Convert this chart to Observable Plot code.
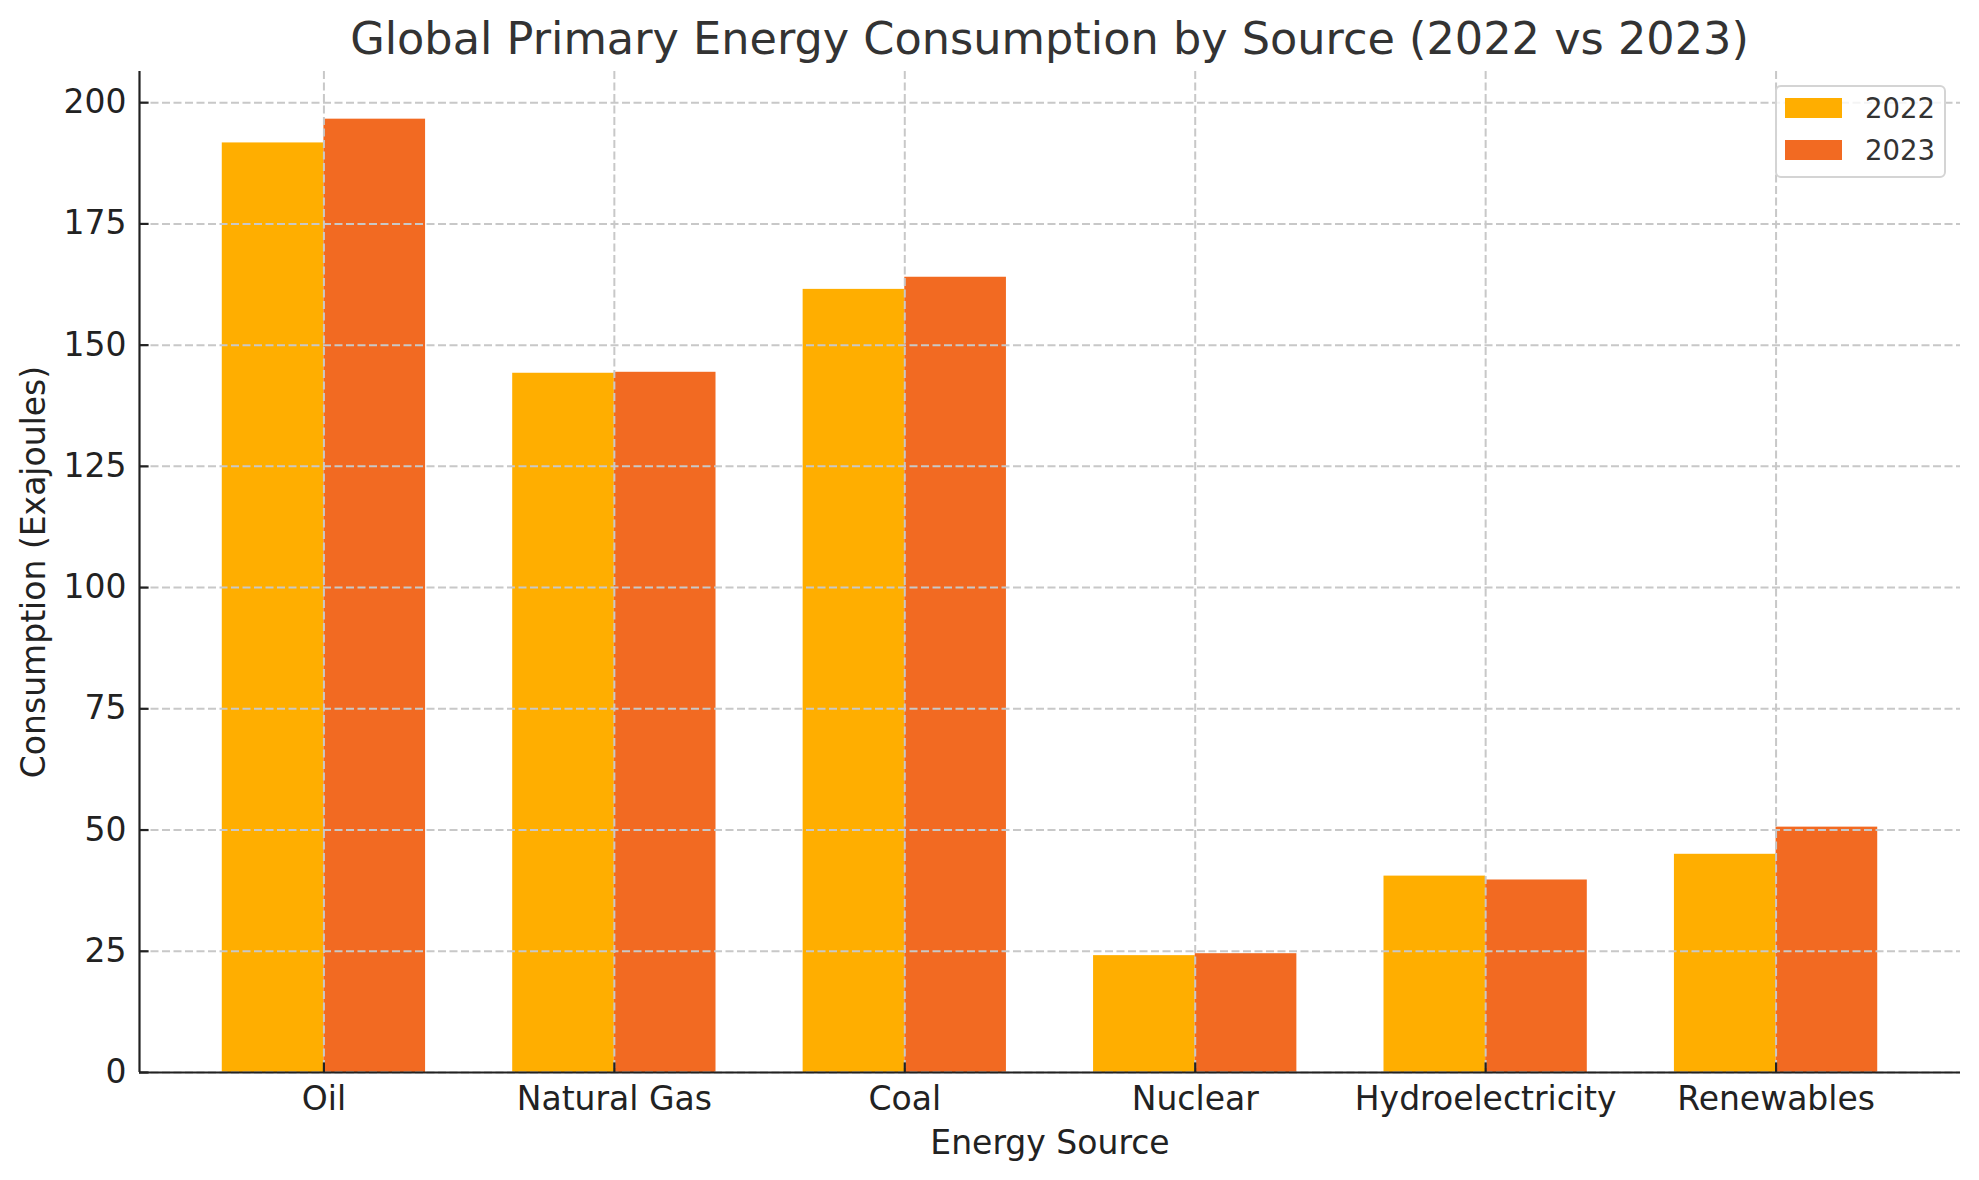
<!DOCTYPE html>
<html>
<head>
<meta charset="utf-8">
<script src="https://cdn.jsdelivr.net/npm/d3@7"></script>
<script src="https://cdn.jsdelivr.net/npm/@observablehq/plot@0.6"></script>
<style>
  body { margin: 0; background: #fff; }
  #wrap { position: relative; width: 1979px; height: 1180px; font-family: "DejaVu Sans", sans-serif; }
  #title { position: absolute; left: 139px; width: 1821px; top: 17px; text-align: center; font-size: 44.6px; line-height: 44px; color: #333; white-space: nowrap; }
  #legend { position: absolute; left: 1775px; top: 85px; width: 171px; height: 93px; box-sizing: border-box; border: 2px solid #d4d4d4; border-radius: 6px; background: rgba(255,255,255,0.8); }
  .lg-sw { position: absolute; left: 8px; width: 57px; height: 20px; }
  .lg-tx { position: absolute; left: 88px; height: 20px; line-height: 20px; font-size: 27.5px; color: #333; }
</style>
</head>
<body>
<div id="wrap">
  <div id="chart"></div>
  <div id="title"></div>
  <div id="legend"></div>
</div>
<script>
const titleText = "Global Primary Energy Consumption by Source (2022 vs 2023)";
const xLabel = "Energy Source";
const yLabel = "Consumption (Exajoules)";
const categories = ["Oil", "Natural Gas", "Coal", "Nuclear", "Hydroelectricity", "Renewables"];
const years = ["2022", "2023"];
const values2022 = [191.7, 144.2, 161.5, 24.1, 40.5, 45.0];
const values2023 = [196.6, 144.4, 164.0, 24.5, 39.7, 50.6];
const yTicks = [0, 25, 50, 75, 100, 125, 150, 175, 200];
const colors = ["#ffae00", "#f26a22"];
const barWidth = 0.35;

const n = categories.length;
const rows = categories.flatMap((c, i) => [
  {category: c, year: years[0], value: values2022[i], x1: i - barWidth, x2: i},
  {category: c, year: years[1], value: values2023[i], x1: i, x2: i + barWidth}
]);
const xPad = 0.05 * (n - 1 + 2 * barWidth);
const xDomain = [-barWidth - xPad, n - 1 + barWidth + xPad];
const yMax = d3.max([...values2022, ...values2023]) * 1.05;
const catTicks = d3.range(n);

const gridStyle = {stroke: "#c8c8c8", strokeOpacity: 1, strokeWidth: 2, strokeDasharray: "8,3.5"};

const chart = Plot.plot({
  width: 1979,
  height: 1180,
  marginLeft: 139,
  marginRight: 19,
  marginTop: 71,
  marginBottom: 108,
  style: {fontFamily: "DejaVu Sans, sans-serif", background: "white", color: "#222"},
  x: {domain: xDomain, axis: null},
  y: {domain: [0, yMax], axis: null},
  color: {domain: years, range: colors},
  marks: [
    Plot.rectY(rows, {x1: "x1", x2: "x2", y1: 0, y2: "value", fill: "year"}),
    Plot.gridY(yTicks, gridStyle),
    Plot.gridX(catTicks, gridStyle),
    Plot.axisY(yTicks, {tickSize: 0, tickPadding: 13, fontSize: 33, label: null, tickFormat: d => String(d), fill: "#222"}),
    Plot.axisY(yTicks, {tickSize: -9.6, fill: "none", label: null, stroke: "#222", strokeWidth: 2.2}),
    Plot.axisX(catTicks, {tickSize: 0, tickPadding: 14, fontSize: 33, label: null, tickFormat: i => categories[i], fill: "#222"}),
    Plot.axisX(catTicks, {tickSize: -9.6, fill: "none", label: null, stroke: "#222", strokeWidth: 2.2}),
    Plot.ruleY([0], {stroke: "#222", strokeWidth: 2.2}),
    Plot.ruleX([xDomain[0]], {stroke: "#222", strokeWidth: 2.2}),
    Plot.text([xLabel], {text: d => d, frameAnchor: "bottom", dy: 71, fontSize: 33, fill: "#222", textAnchor: "middle", lineAnchor: "middle"}),
    Plot.text([yLabel], {text: d => d, frameAnchor: "left", dx: -105, rotate: -90, fontSize: 33, fill: "#222", textAnchor: "middle", lineAnchor: "middle"})
  ]
});
document.getElementById("chart").appendChild(chart);
document.getElementById("title").textContent = titleText;

const legend = document.getElementById("legend");
years.forEach((y, k) => {
  const top = 11 + k * 42;
  const sw = document.createElement("div");
  sw.className = "lg-sw";
  sw.style.top = top + "px";
  sw.style.background = colors[k];
  legend.appendChild(sw);
  const tx = document.createElement("div");
  tx.className = "lg-tx";
  tx.style.top = top + "px";
  tx.textContent = y;
  legend.appendChild(tx);
});
</script>
</body>
</html>
